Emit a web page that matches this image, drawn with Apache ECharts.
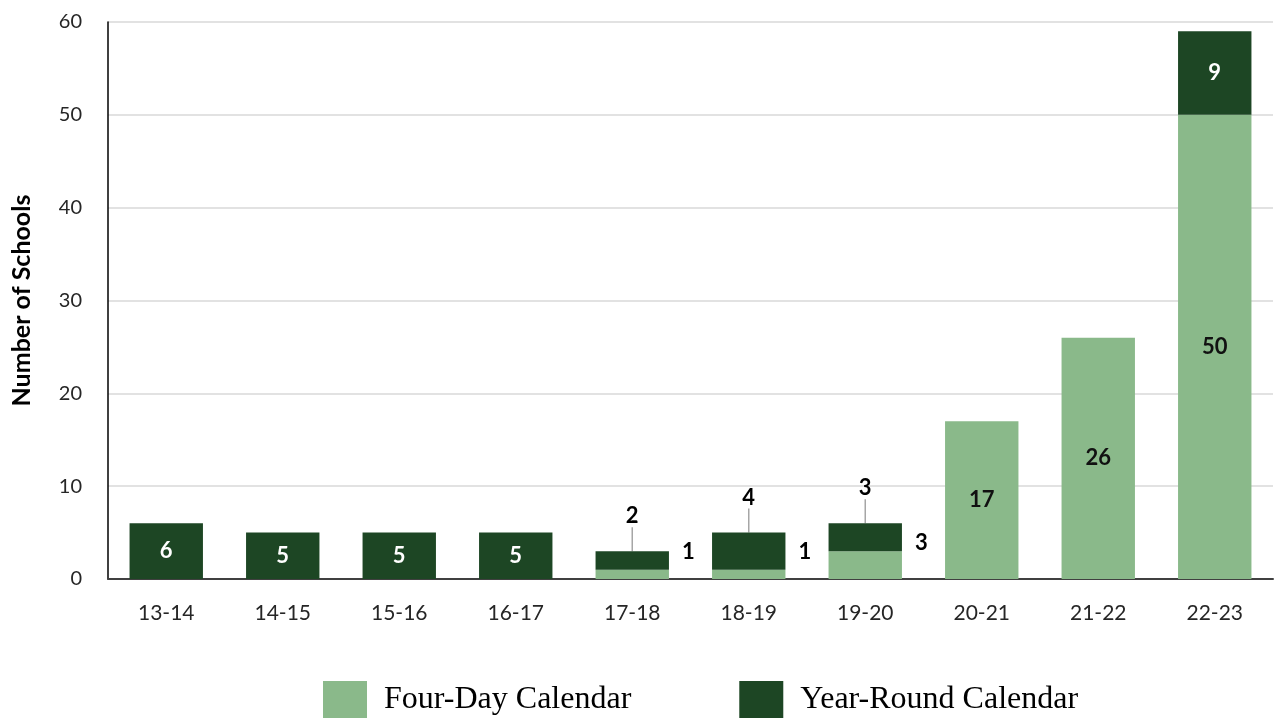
<!DOCTYPE html>
<html>
<head>
    <meta charset="utf-8">
    <title>Number of Schools</title>
    <script src="https://cdn.jsdelivr.net/npm/echarts@6/dist/echarts.min.js"></script>
    <style>
        html, body { margin: 0; padding: 0; background: #fff; }
        #chart { width: 1276px; height: 723px; }
    </style>
</head>
<body>
    <div id="chart"></div>
    <script>
        // 学年
        const years = ['13-14', '14-15', '15-16', '16-17', '17-18', '18-19', '19-20', '20-21', '21-22', '22-23'];
        // 四天制 / 全年制
        const fourDay = [0, 0, 0, 0, 1, 1, 3, 17, 26, 50];
        const yearRound = [6, 5, 5, 5, 2, 4, 3, 0, 0, 9];
        const yTicks = { min: 0, max: 60, step: 10 };

        const lightGreen = '#8ab98a';
        const darkGreen = '#1d4624';
        const font = 'Lato';

        // 小柱子的标签放在外面
        const smallIdx = [4, 5, 6];

        function fourDayData() {
            return fourDay.map((v, i) => {
                if (v === 0) return null;
                if (smallIdx.includes(i)) {
                    return { value: v, label: { position: 'right', offset: [8, -22], color: '#000' } };
                }
                return v;
            });
        }

        function yearRoundData() {
            return yearRound.map((v, i) => {
                if (v === 0) return null;
                if (smallIdx.includes(i)) {
                    return {
                        value: v,
                        label: { position: 'top', distance: 4, color: '#000' },
                        labelLine: { show: true, lineStyle: { color: '#a6a6a6', width: 1.5 } }
                    };
                }
                return v;
            });
        }

        const chart = echarts.init(document.getElementById('chart'));

        chart.setOption({
            animation: false,
            grid: { left: 108, right: 3, top: 22, bottom: 144, outerBoundsMode: 'none', containLabel: false },
            legend: {
                bottom: 0,
                left: 318,
                icon: 'rect',
                itemWidth: 44,
                itemHeight: 37,
                itemGap: 108,
                textStyle: { fontFamily: 'Liberation Serif', fontSize: 32, color: '#000', padding: [0, 0, 0, 12] },
                data: ['Four-Day Calendar', 'Year-Round Calendar']
            },
            xAxis: {
                type: 'category',
                data: years,
                axisLine: { lineStyle: { color: '#404040', width: 2 } },
                axisTick: { show: false },
                axisLabel: { fontFamily: font, fontSize: 21, color: '#262626', margin: 24 }
            },
            yAxis: {
                type: 'value',
                min: yTicks.min,
                max: yTicks.max,
                interval: yTicks.step,
                name: 'Number of Schools',
                nameLocation: 'middle',
                nameGap: 74,
                nameTextStyle: { fontFamily: font, fontSize: 25, fontWeight: 'bold', color: '#000' },
                axisLine: { show: true, lineStyle: { color: '#000', width: 1.5 } },
                axisLabel: { fontFamily: font, fontSize: 20, color: '#262626', margin: 26 },
                splitLine: { lineStyle: { color: '#e2e2e2', width: 2 } }
            },
            series: [
                {
                    name: 'Four-Day Calendar',
                    type: 'bar',
                    stack: 'total',
                    barWidth: '63%',
                    itemStyle: { color: lightGreen },
                    label: {
                        show: true,
                        position: 'inside',
                        fontFamily: font,
                        fontSize: 22,
                        fontWeight: 'bold',
                        color: '#111'
                    },
                    data: fourDayData()
                },
                {
                    name: 'Year-Round Calendar',
                    type: 'bar',
                    stack: 'total',
                    barWidth: '63%',
                    itemStyle: { color: darkGreen },
                    label: {
                        show: true,
                        position: 'inside',
                        fontFamily: font,
                        fontSize: 22,
                        fontWeight: 'bold',
                        color: '#fff'
                    },
                    labelLayout: function (params) {
                        if (smallIdx.includes(params.dataIndex)) {
                            return { dy: -20 };
                        }
                    },
                    data: yearRoundData()
                }
            ]
        });
    </script>
</body>
</html>
